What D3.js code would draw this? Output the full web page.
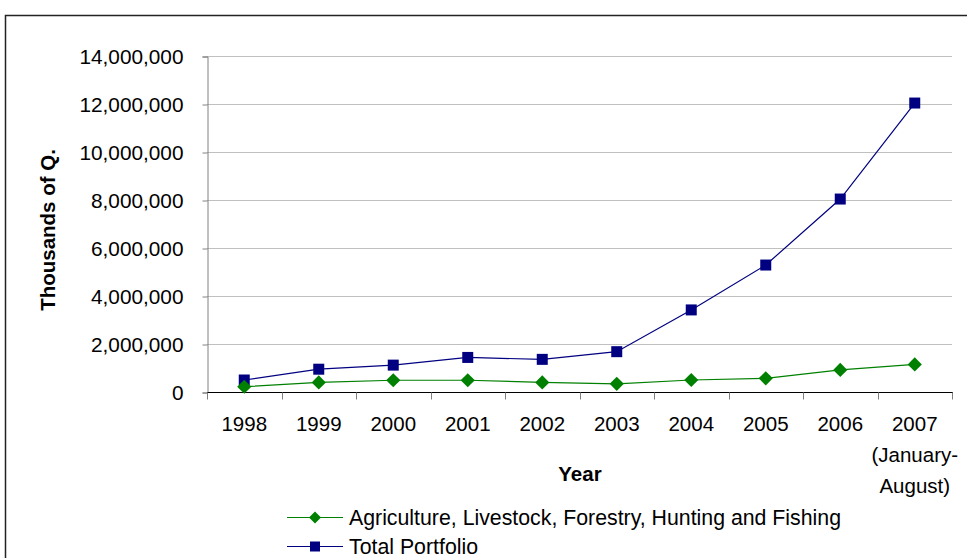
<!DOCTYPE html>
<html>
<head>
<meta charset="utf-8">
<script src="https://cdn.jsdelivr.net/npm/d3@7"></script>
<style>
  html, body { margin: 0; padding: 0; background: #fff; }
  svg { display: block; font-family: "Liberation Sans", Arial, sans-serif; }
</style>
</head>
<body>
<svg id="chart" width="967" height="558"></svg>
<script>
// Loan portfolio by year (thousands of quetzales)
const years = ["1998", "1999", "2000", "2001", "2002", "2003", "2004", "2005", "2006", "2007"];
const yearLabels = [["1998"], ["1999"], ["2000"], ["2001"], ["2002"], ["2003"], ["2004"], ["2005"], ["2006"], ["2007", "(January-", "August)"]];
const agriculture = [220000, 400000, 490000, 490000, 400000, 340000, 500000, 570000, 920000, 1150000];
const totalPortfolio = [500000, 950000, 1120000, 1440000, 1360000, 1680000, 3420000, 5290000, 8040000, 12040000];
const yTicks = [0, 2000000, 4000000, 6000000, 8000000, 10000000, 12000000, 14000000];
const seriesNames = ["Agriculture, Livestock, Forestry, Hunting and Fishing", "Total Portfolio"];

const svg = d3.select("#chart");
const plot = { left: 207, right: 952, top: 56, bottom: 392 };

// outer chart frame
svg.append("rect")
  .attr("x", 5.5).attr("y", 15.5)
  .attr("width", 1000).attr("height", 600)
  .attr("fill", "none").attr("stroke", "#222").attr("stroke-width", 1.5);

const x = d3.scaleBand().domain(years).range([plot.left, plot.right]);
const y = d3.scaleLinear().domain([0, 14000000]).range([plot.bottom, plot.top]);

// horizontal gridlines
svg.append("g").selectAll("line").data(yTicks.filter(d => d > 0)).join("line")
  .attr("x1", plot.left).attr("x2", plot.right)
  .attr("y1", d => Math.round(y(d)) + 0.5).attr("y2", d => Math.round(y(d)) + 0.5)
  .attr("stroke", "#c0c0c0").attr("stroke-width", 1);

// y axis
const yAxis = svg.append("g")
  .attr("transform", `translate(${plot.left + 0.5},0.5)`)
  .call(d3.axisLeft(y).tickValues(yTicks).tickFormat(d3.format(",")).tickSize(5).tickPadding(19));
yAxis.select(".domain").attr("stroke", "#808080");
yAxis.selectAll(".tick line").attr("stroke", "#808080");
yAxis.selectAll("text").attr("font-size", 20.8).attr("fill", "#000")
  .attr("font-family", "Liberation Sans, Arial, sans-serif");

// x axis: ticks at category boundaries
const xAxisG = svg.append("g").attr("transform", `translate(0,${plot.bottom + 0.5})`);
xAxisG.append("line").attr("x1", plot.left).attr("x2", plot.right + 1)
  .attr("stroke", "#000").attr("stroke-width", 1);
const boundaries = years.map(d => x(d)).concat([x(years[years.length - 1]) + x.bandwidth()]);
xAxisG.selectAll("line.tk").data(boundaries).join("line").attr("class", "tk")
  .attr("x1", d => Math.round(d) + 0.5).attr("x2", d => Math.round(d) + 0.5)
  .attr("y1", 0).attr("y2", 7).attr("stroke", "#808080");
const xl = xAxisG.selectAll("text").data(years).join("text")
  .attr("x", d => x(d) + x.bandwidth() / 2)
  .attr("y", 38)
  .attr("text-anchor", "middle")
  .attr("font-size", 20.5).attr("fill", "#000");
xl.each(function(d, i) {
  d3.select(this).selectAll("tspan").data(yearLabels[i]).join("tspan")
    .attr("x", x(d) + x.bandwidth() / 2)
    .attr("dy", (t, j) => j === 0 ? 0 : 31)
    .text(t => t);
});

// axis titles
svg.append("text").attr("x", 580).attr("y", 481).attr("text-anchor", "middle")
  .attr("font-size", 20.5).attr("font-weight", "bold").text("Year");
svg.append("text").attr("transform", "translate(55,230) rotate(-90)").attr("text-anchor", "middle")
  .attr("font-size", 20.5).attr("font-weight", "bold").text("Thousands of Q.");

const cx = d => x(d) + x.bandwidth() / 2;
const line = d3.line().x((v, i) => cx(years[i])).y(v => y(v));

const diamond = d3.symbol().type(d3.symbolSquare).size(100);
const square = d3.symbol().type(d3.symbolSquare).size(121);

// Total Portfolio series
svg.append("path").datum(totalPortfolio).attr("d", line)
  .attr("fill", "none").attr("stroke", "#000080").attr("stroke-width", 1.2);
// Agriculture series
svg.append("path").datum(agriculture).attr("d", line)
  .attr("fill", "none").attr("stroke", "#008000").attr("stroke-width", 1.2);

svg.append("g").selectAll("path").data(totalPortfolio).join("path")
  .attr("d", square)
  .attr("transform", (v, i) => `translate(${cx(years[i])},${y(v)})`)
  .attr("fill", "#000080");
svg.append("g").selectAll("path").data(agriculture).join("path")
  .attr("d", diamond)
  .attr("transform", (v, i) => `translate(${cx(years[i])},${y(v)}) rotate(45)`)
  .attr("fill", "#008000");

// legend
const legendDiamond = d3.symbol().type(d3.symbolSquare).size(72);
const legendSquare = d3.symbol().type(d3.symbolSquare).size(100);
const legend = svg.append("g");
const legendRows = [
  { name: seriesNames[0], color: "#008000", sym: legendDiamond, rot: 45, y: 517 },
  { name: seriesNames[1], color: "#000080", sym: legendSquare, rot: 0, y: 546 }
];
legendRows.forEach(r => {
  legend.append("line").attr("x1", 287).attr("x2", 343).attr("y1", r.y + 0.5).attr("y2", r.y + 0.5)
    .attr("stroke", r.color).attr("stroke-width", 1.2);
  legend.append("path").attr("d", r.sym)
    .attr("transform", `translate(315,${r.y + 0.5}) rotate(${r.rot})`).attr("fill", r.color);
  legend.append("text").attr("x", 349).attr("y", r.y + 7.5).attr("font-size", 21.3).text(r.name);
});
</script>
</body>
</html>
